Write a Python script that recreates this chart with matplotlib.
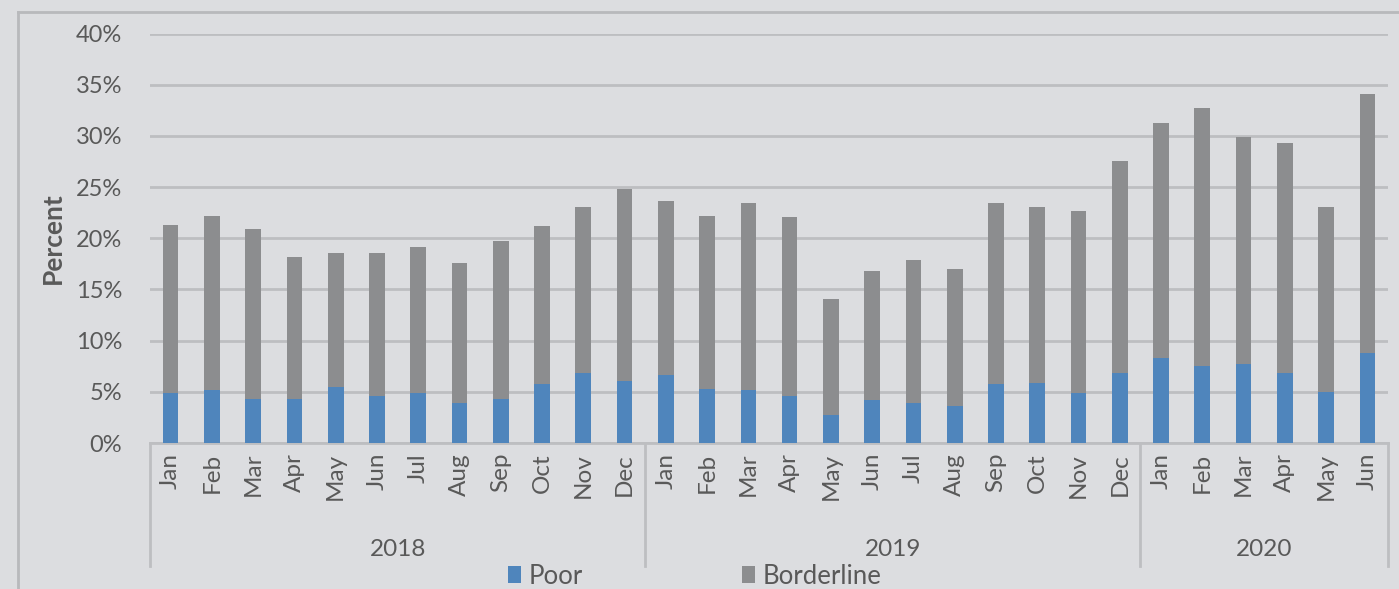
import matplotlib
matplotlib.use("Agg")
import matplotlib.pyplot as plt
import matplotlib.transforms as mtransforms
from matplotlib.patches import Patch
from matplotlib.lines import Line2D
from matplotlib.ticker import FuncFormatter
import numpy as np

plt.rcParams['font.family'] = ['Lato', 'DejaVu Sans']

months = ["Jan", "Feb", "Mar", "Apr", "May", "Jun", "Jul", "Aug", "Sep", "Oct", "Nov", "Dec",
          "Jan", "Feb", "Mar", "Apr", "May", "Jun", "Jul", "Aug", "Sep", "Oct", "Nov", "Dec",
          "Jan", "Feb", "Mar", "Apr", "May", "Jun"]
years = ["2018", "2019", "2020"]
year_counts = [12, 12, 6]

poor = [4.85, 5.2, 4.3, 4.3, 5.5, 4.55, 4.85, 3.95, 4.3, 5.75, 6.8, 6.05,
        6.6, 5.3, 5.15, 4.55, 2.7, 4.2, 3.9, 3.65, 5.75, 5.9, 4.85, 6.8,
        8.3, 7.55, 7.7, 6.8, 5.0, 8.75]
borderline = [16.45, 17.0, 16.6, 13.9, 13.1, 14.05, 14.25, 13.65, 15.4, 15.45, 16.3, 18.75,
              17.0, 16.9, 18.25, 17.55, 11.4, 12.6, 14.0, 13.35, 17.65, 17.2, 17.85, 20.7,
              23.0, 25.15, 22.2, 22.5, 18.1, 25.35]
yticks = [0, 5, 10, 15, 20, 25, 30, 35, 40]

BG = "#dcdde0"
GRID = "#bdbec1"
TXT = "#595959"
BLUE = "#4f85bc"
GRAY = "#8c8d8f"
FS = 17

W, H = 1399, 589
fig = plt.figure(figsize=(W / 100, H / 100), dpi=100, facecolor=BG)
ax = fig.add_axes([150 / W, 1 - 443 / H, (1388 - 150) / W, (443 - 33.5) / H])
ax.set_facecolor(BG)

x = np.arange(len(months))
ax.bar(x, poor, width=0.38, color=BLUE, zorder=3)
ax.bar(x, borderline, width=0.38, bottom=poor, color=GRAY, zorder=3)

ax.set_xlim(-0.5, len(months) - 0.5)
ax.set_ylim(0, 40)
ax.set_yticks(yticks)
ax.yaxis.set_major_formatter(FuncFormatter(lambda v, p: f"{v:.0f}%"))
ax.tick_params(axis='y', length=0, pad=20, labelsize=FS, labelcolor=TXT)
ax.tick_params(axis='x', length=0, labelbottom=False)
ax.grid(axis='y', color=GRID, linewidth=2, zorder=0)
for s in ['left', 'right', 'top']:
    ax.spines[s].set_visible(False)
ax.spines['bottom'].set_color(GRID)
ax.spines['bottom'].set_linewidth(2)

trans = mtransforms.blended_transform_factory(ax.transData, fig.transFigure)
for i, m in enumerate(months):
    ax.text(i, 1 - 453 / H, m, transform=trans, rotation=90, ha='center', va='top',
            fontsize=FS + 0.5, color=TXT)

start = 0
bounds = [-0.5]
for yname, cnt in zip(years, year_counts):
    mid = start + (cnt - 1) / 2
    ax.text(mid, 1 - 549 / H, yname, transform=trans, ha='center', va='center',
            fontsize=FS + 0.5, color=TXT)
    start += cnt
    bounds.append(start - 0.5)
for b in bounds:
    ax.plot([b, b], [1 - 443 / H, 1 - 566 / H], transform=trans, color=GRID,
            linewidth=2, clip_on=False, zorder=1)

fig.text(53 / W, 1 - 238 / H, "Percent", rotation=90, ha='center', va='center',
         fontsize=19, fontweight='bold', color=TXT)

# chart area border
fig.add_artist(Line2D([18 / W, 18 / W], [0, 1 - 12 / H], color="#b8b9bc", linewidth=2))
fig.add_artist(Line2D([18 / W, 1], [1 - 12 / H, 1 - 12 / H], color="#b8b9bc", linewidth=2))

handles = [Patch(facecolor=BLUE, edgecolor='none'), Patch(facecolor=GRAY, edgecolor='none')]
leg = fig.legend(handles, ["Poor", "Borderline"], ncol=2, loc='center left',
                 bbox_to_anchor=(508 / W, 1 - 576 / H), frameon=False, fontsize=18.5,
                 labelcolor=TXT, handlelength=0.5, handleheight=0.65, handletextpad=0.3,
                 columnspacing=6.2, borderaxespad=0, borderpad=0)

fig.savefig("out.png", dpi=100, facecolor=BG)
